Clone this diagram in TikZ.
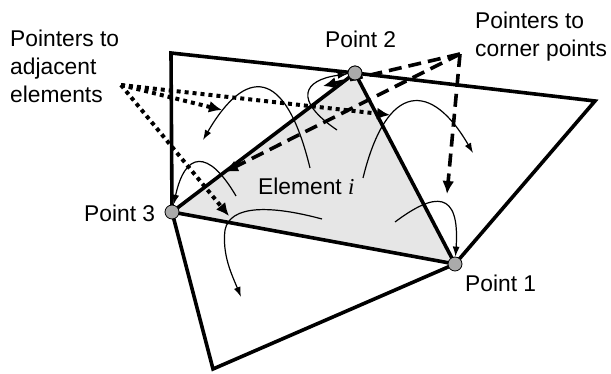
\documentclass[tikz,border=0pt]{standalone}
\usepackage{fontspec}
\setmainfont{Liberation Sans}
\newfontfamily\serifit{Liberation Serif}
\usetikzlibrary{arrows.meta}
\definecolor{elemfill}{HTML}{E6E6E6}
\definecolor{vertfill}{HTML}{AAAAAA}
\begin{document}
\begin{tikzpicture}[x=1pt,y=-1pt,
  edge/.style={line width=3.6pt, line join=miter},
  ptr/.style={line width=1.2pt, -{Latex[length=10pt,width=7pt]}},
  dotarrow/.style={line width=4pt, dash pattern=on 4pt off 4pt, -{Latex[length=13pt,width=12pt]}},
  dasharrow/.style={line width=3.6pt, dash pattern=on 13pt off 7pt, -{Latex[length=13pt,width=12pt]}},
  vertex/.style={circle, draw, line width=0.8pt, fill=vertfill, minimum size=14pt, inner sep=0pt},
  lbl/.style={font=\fontsize{22.8}{28}\selectfont, inner sep=0pt, align=left}
]
\useasboundingbox (0,0) rectangle (611,374);

% corner coordinates
\coordinate (TL) at (171,53);
\coordinate (R) at (595,101);
\coordinate (B) at (213,369);
\coordinate (c1) at (455,264);
\coordinate (c2) at (355,73);
\coordinate (c3) at (172,212);

% element i
\fill[elemfill] (c1) -- (c2) -- (c3) -- cycle;
\draw[edge] (TL) -- (c2) -- (R) -- (c1) -- (B) -- (c3) -- cycle;
\draw[edge] (c1) -- (c2) -- (c3) -- cycle;

% vertices
\node[vertex] (P1) at (c1) {};
\node[vertex] (P2) at (c2) {};
\node[vertex] (P3) at (c3) {};

% pointer start points
\coordinate (s1) at (395,222);
\coordinate (s2) at (337,130);
\coordinate (s3) at (236,196);
\coordinate (sa) at (310,168);
\coordinate (sb) at (363,178);
\coordinate (sc) at (322,219);
\coordinate (ea) at (203,140);
\coordinate (eb) at (473,153);
\coordinate (ec) at (241,297);

% pointers to corner points
\draw[ptr] (s1) .. controls (435,192) and (460,190) .. (P1);
\draw[ptr] (s2) .. controls (293,100) and (303,80) .. (P2);
\draw[ptr] (s3) .. controls (208,148) and (185,152) .. (P3);

% pointers to adjacent elements
\draw[ptr] (sa) .. controls (285,65) and (245,68) .. (ea);
\draw[ptr] (sb) .. controls (387,80) and (432,82) .. (eb);
\draw[ptr] (sc) .. controls (270,205) and (230,205) .. (225,230)
               .. controls (222,255) and (232,275) .. (ec);

% annotation arrows
\coordinate (dotsrc) at (121,85);
\coordinate (dt1) at (390,115);
\coordinate (dt2) at (222,110);
\coordinate (dt3) at (229,216);
\draw[dotarrow] (dotsrc) -- (dt1);
\draw[dotarrow] (dotsrc) -- (dt2);
\draw[dotarrow] (dotsrc) -- (dt3);

\coordinate (dashsrc) at (460,54);
\coordinate (ds1) at (323,86);
\coordinate (ds2) at (225,172);
\coordinate (ds3) at (447,194);
\draw[dasharrow] (dashsrc) -- (ds1);
\draw[dasharrow] (dashsrc) -- (ds2);
\draw[dasharrow] (dashsrc) -- (ds3);

% redraw vertex P2 on top of dashed line
\node[vertex] at (c2) {};

% labels
\node[lbl, anchor=north west] (ladj) at (10,29.7) {Pointers to\\adjacent\\elements};
\node[lbl, anchor=north west] (lcorn) at (475,11.7) {Pointers to\\corner points};
\node[lbl, anchor=base west] (l2) at (325,48) {Point 2};
\node[lbl, anchor=base west] (l3) at (84,222) {Point 3};
\node[lbl, anchor=base west] (l1) at (465,292) {Point 1};
\node[lbl, anchor=base west] (lel) at (258,195) {Element {\serifit\itshape i}};
\end{tikzpicture}
\end{document}
